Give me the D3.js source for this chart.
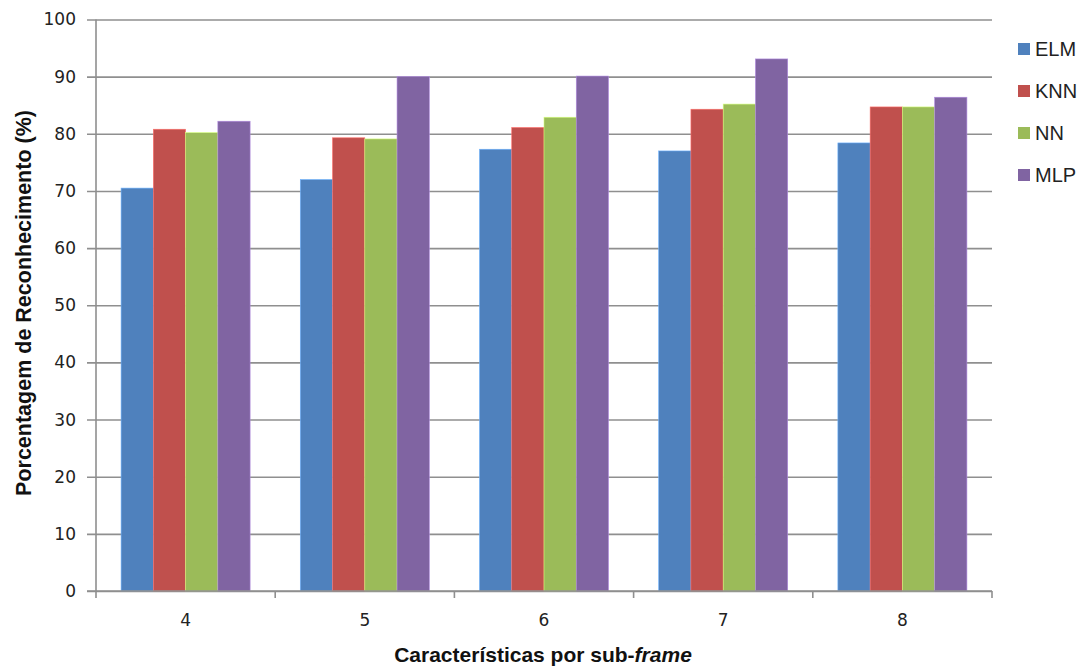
<!DOCTYPE html>
<html>
<head>
<meta charset="utf-8">
<script src="https://cdn.jsdelivr.net/npm/d3@7/dist/d3.min.js"></script>
<style>
  html, body { margin: 0; padding: 0; background: #fff; }
  svg { display: block; }
</style>
</head>
<body>
<svg id="chart" width="1083" height="666"></svg>
<script>
// Recognition rate per classifier, grouped by number of features per sub-frame
const categories = ["4", "5", "6", "7", "8"];
const seriesNames = ["ELM", "KNN", "NN", "MLP"];
const elm = [70.5, 72.0, 77.3, 77.0, 78.4];
const knn = [80.8, 79.3, 81.1, 84.3, 84.7];
const nn  = [80.2, 79.1, 82.9, 85.2, 84.7];
const mlp = [82.2, 90.0, 90.1, 93.1, 86.4];
const yTicks = [0, 10, 20, 30, 40, 50, 60, 70, 80, 90, 100];
const colors = ["#4F81BD", "#C0504D", "#9BBB59", "#8064A2"];

const seriesValues = [elm, knn, nn, mlp];
const rows = categories.map((c, i) => ({
  cat: c,
  vals: seriesNames.map((s, j) => ({ key: s, value: seriesValues[j][i] }))
}));

const svg = d3.select("#chart");
const plotLeft = 96, plotRight = 992, plotTop = 19.5, plotBottom = 591;

const y = d3.scaleLinear().domain([0, 100]).range([plotBottom, plotTop]);
const x0 = d3.scaleBand().domain(categories).range([plotLeft, plotRight]).padding(0);
const groupPad = x0.bandwidth() * 0.14;
const x1 = d3.scaleBand().domain(seriesNames)
  .range([groupPad, x0.bandwidth() - groupPad]).padding(0);
const color = d3.scaleOrdinal().domain(seriesNames).range(colors);

const gridColor = "#8f8f8f";
const tickFont = "DejaVu Sans, Verdana, sans-serif";

// Horizontal gridlines with outward ticks on the value axis
const yAxis = d3.axisLeft(y).tickValues(yTicks).tickSize(-(plotRight - plotLeft)).tickSizeOuter(0).tickPadding(20);
const gy = svg.append("g").attr("transform", `translate(${plotLeft},0)`).call(yAxis);
gy.select(".domain").remove();
gy.selectAll(".tick line")
  .attr("x1", -9)
  .attr("stroke", gridColor)
  .attr("stroke-width", 1.6);
gy.selectAll(".tick text")
  .attr("font-family", tickFont)
  .attr("font-size", 17)
  .attr("fill", "#222");

// Bars
const groups = svg.append("g").selectAll("g")
  .data(rows).join("g")
  .attr("transform", d => `translate(${x0(d.cat)},0)`);
groups.selectAll("rect")
  .data(d => d.vals).join("rect")
  .attr("x", d => x1(d.key))
  .attr("y", d => y(d.value))
  .attr("width", x1.bandwidth())
  .attr("height", d => y(0) - y(d.value))
  .attr("fill", d => color(d.key))
  .attr("stroke", d => d3.color(color(d.key)).brighter(0.9))
  .attr("stroke-width", 0.6);

// Category axis along the bottom
const xAxis = d3.axisBottom(x0).tickSize(0).tickPadding(23);
const gx = svg.append("g").attr("transform", `translate(0,${plotBottom})`).call(xAxis);
gx.select(".domain").attr("stroke", gridColor).attr("stroke-width", 1.6)
  .attr("d", `M${plotLeft - 9},0H${plotRight}`);
gx.selectAll(".tick text")
  .attr("font-family", tickFont)
  .attr("font-size", 17)
  .attr("fill", "#222");
// Separators between category groups
svg.append("g").selectAll("line")
  .data(categories.concat(["end"]))
  .join("line")
  .attr("x1", (d, i) => plotLeft + i * x0.bandwidth())
  .attr("x2", (d, i) => plotLeft + i * x0.bandwidth())
  .attr("y1", plotBottom)
  .attr("y2", plotBottom + 7)
  .attr("stroke", gridColor)
  .attr("stroke-width", 1.6);

// Value axis line
svg.append("line")
  .attr("x1", plotLeft).attr("x2", plotLeft)
  .attr("y1", plotTop).attr("y2", plotBottom)
  .attr("stroke", gridColor).attr("stroke-width", 1.6);

// Axis titles
const xTitle = svg.append("text")
  .attr("x", 543).attr("y", 662)
  .attr("text-anchor", "middle")
  .attr("font-family", "Liberation Sans, Arial, sans-serif")
  .attr("font-weight", "bold")
  .attr("font-size", 21)
  .attr("fill", "#111");
xTitle.append("tspan").text("Características por sub-");
xTitle.append("tspan").attr("font-style", "italic").text("frame");

svg.append("text")
  .attr("transform", "translate(31,303) rotate(-90)")
  .attr("text-anchor", "middle")
  .attr("font-family", "Liberation Sans, Arial, sans-serif")
  .attr("font-weight", "bold")
  .attr("font-size", 21.5)
  .attr("fill", "#111")
  .text("Porcentagem de Reconhecimento (%)");

// Legend
const legend = svg.append("g").attr("transform", "translate(1018,0)");
const li = legend.selectAll("g").data(seriesNames).join("g")
  .attr("transform", (d, i) => `translate(0,${49 + i * 42})`);
li.append("rect")
  .attr("x", 0).attr("y", -6)
  .attr("width", 12).attr("height", 12)
  .attr("fill", d => color(d));
li.append("text")
  .attr("x", 17).attr("y", 7)
  .attr("font-family", "Liberation Sans, Arial, sans-serif")
  .attr("font-size", 20)
  .attr("fill", "#222")
  .text(d => d);
</script>
</body>
</html>
